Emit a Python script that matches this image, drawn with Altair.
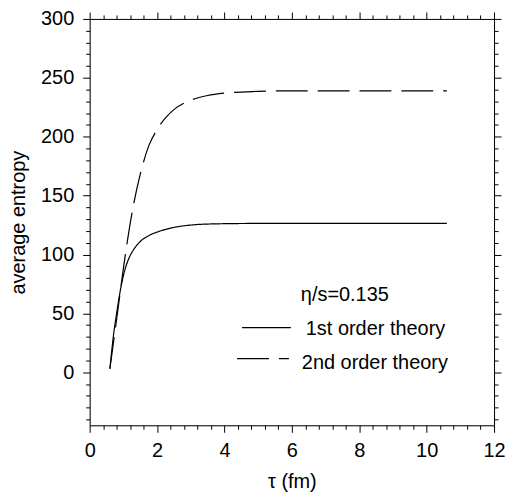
import altair as alt
import pandas as pd

# 1st order theory (solid)
tau_1st = [0.6, 0.65, 0.7, 0.8, 0.9, 1.0, 1.1, 1.2, 1.3, 1.5, 1.75, 2.0, 2.5, 3.0, 3.7, 5.0, 7.0, 10.6]
s_1st   = [3, 17, 30, 50, 68, 82, 92, 99, 104, 111, 116, 119, 123, 125, 126, 126.4, 126.5, 126.5]

# 2nd order theory (dashed)
tau_2nd = [0.6, 0.8, 1.0, 1.1, 1.2, 1.3, 1.5, 1.75, 2.0, 2.25, 2.5, 3.0, 3.5, 4.0, 5.0, 6.0, 8.0, 10.6]
s_2nd   = [3, 45, 88, 108, 126, 142, 168, 192, 206, 216, 223, 231, 235, 237, 238.5, 239, 239, 239]

x_ticks = [round(i * 0.4, 1) for i in range(31)]
y_ticks = list(range(-40, 301, 10))

legend_note = "η/s=0.135"
series_names = ["1st order theory", "2nd order theory"]

df = pd.concat([
    pd.DataFrame({"tau": tau_1st, "s": s_1st, "series": series_names[0]}),
    pd.DataFrame({"tau": tau_2nd, "s": s_2nd, "series": series_names[1]}),
])

FONT = "Liberation Sans"
FS = 20
W, H = 406, 408

xscale = alt.Scale(domain=[0, 12], nice=False, zero=False)
yscale = alt.Scale(domain=[-45, 300], nice=False, zero=False)

x_major = "abs(datum.value/2 - round(datum.value/2)) < 0.001"
y_major = "datum.value % 50 === 0"

def xaxis(orient, labels):
    kw = dict(
        orient=orient, values=x_ticks, title="τ (fm)" if labels else None,
        tickSize={"condition": {"test": x_major, "value": 7}, "value": 4},
        tickColor="black", tickWidth=1, domainColor="black", domainWidth=1,
        grid=False, labels=labels, labelFont=FONT, labelFontSize=FS,
        labelColor="black", labelPadding=8, labelFlush=False, labelOverlap=False,
    )
    if labels:
        kw.update(labelExpr=f"{x_major} ? format(datum.value, 'd') : ''",
                  titleFont=FONT, titleFontSize=FS, titleFontWeight="normal",
                  titleColor="black", titleX=W / 2, titleY=56, titleBaseline="middle",
                  titleAlign="center")
    return alt.Axis(**kw)

def yaxis(orient, labels):
    kw = dict(
        orient=orient, values=y_ticks, title="average entropy" if labels else None,
        tickSize={"condition": {"test": y_major, "value": 7}, "value": 4},
        tickColor="black", tickWidth=1, domainColor="black", domainWidth=1,
        grid=False, labels=labels, labelFont=FONT, labelFontSize=FS,
        labelColor="black", labelPadding=9, labelFlush=False, labelOverlap=False,
    )
    if labels:
        kw.update(labelExpr=f"{y_major} ? format(datum.value, 'd') : ''",
                  titleFont=FONT, titleFontSize=FS, titleFontWeight="normal",
                  titleColor="black", titleX=-71, titleY=H / 2, titleAngle=270,
                  titleBaseline="middle", titleAlign="center")
    return alt.Axis(**kw)

lines = alt.Chart(df).mark_line(color="black", strokeWidth=1.2, interpolate="monotone").encode(
    x=alt.X("tau:Q", scale=xscale, axis=xaxis("bottom", True)),
    y=alt.Y("s:Q", scale=yscale, axis=yaxis("left", True)),
    strokeDash=alt.StrokeDash("series:N",
                              scale=alt.Scale(domain=series_names, range=[[1, 0], [32, 10]]),
                              legend=None),
    detail="series:N",
)

frame = alt.Chart(df).mark_point(opacity=0).encode(
    x=alt.X("tau:Q", scale=xscale, axis=xaxis("top", False)),
    y=alt.Y("s:Q", scale=yscale, axis=yaxis("right", False)),
)

leg_rule_solid = alt.Chart(pd.DataFrame({"a": [0]})).mark_rule(color="black", strokeWidth=1.2).encode(
    x=alt.value(153), x2=alt.value(202), y=alt.value(310))
leg_rule_dash = alt.Chart(pd.DataFrame({"a": [0]})).mark_rule(color="black", strokeWidth=1.2,
                                                             strokeDash=[32, 10]).encode(
    x=alt.value(148), x2=alt.value(200), y=alt.value(341))

leg_text = alt.Chart(pd.DataFrame({
    "t": [legend_note, series_names[0], series_names[1]],
    "px": [212, 217, 213],
    "py": [277, 311, 345],
})).mark_text(font=FONT, fontSize=FS, align="left", baseline="middle", color="black").encode(
    x=alt.X("px:Q", scale=None, axis=None),
    y=alt.Y("py:Q", scale=None, axis=None),
    text="t:N",
)

chart = alt.layer(lines, frame, leg_rule_solid, leg_rule_dash, leg_text).resolve_axis(
    x="independent", y="independent"
).resolve_scale(x="shared", y="shared").properties(
    width=W, height=H,
    autosize=alt.AutoSizeParams(type="none"),
    padding={"left": 82, "top": 10, "right": 12, "bottom": 67},
).configure_view(stroke=None).configure(background="white")

chart.save("out.html", embed_options={"renderer": "svg", "actions": False})
